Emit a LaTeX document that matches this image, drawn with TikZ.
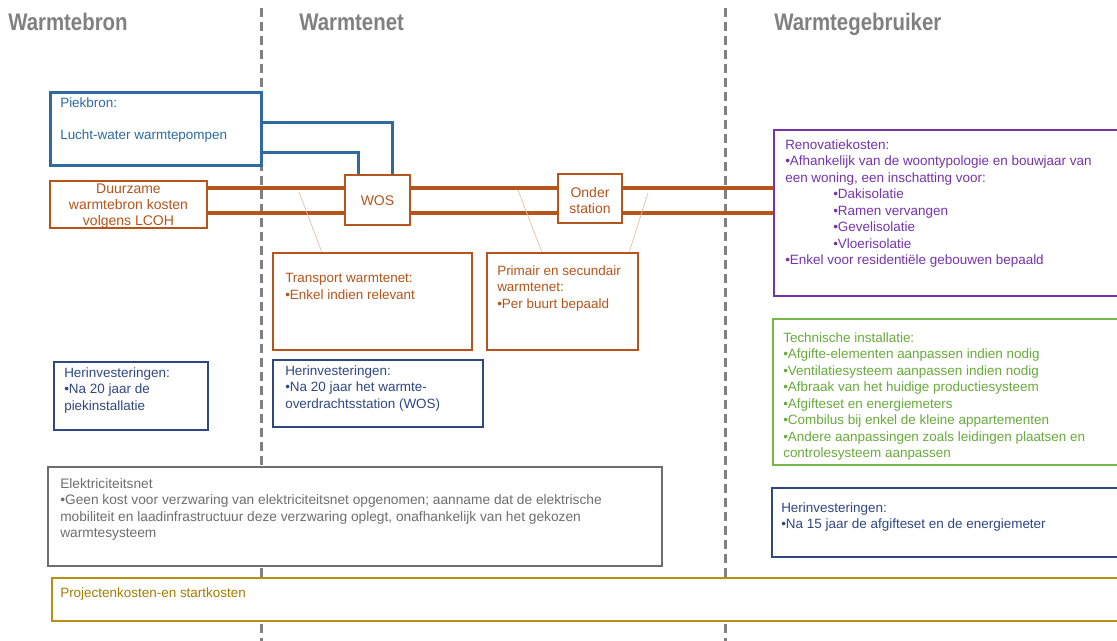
\documentclass[tikz,border=0pt]{standalone}
\usepackage{fontspec}
\setmainfont{Liberation Sans}
\newfontfamily\headfont[FakeStretch=0.85]{Liberation Sans}
\usetikzlibrary{fit}
\definecolor{headgray}{RGB}{128,128,128}
\definecolor{piekblue}{RGB}{46,106,160}
\definecolor{pipebrown}{RGB}{181,85,27}
\definecolor{tapcol}{RGB}{225,190,160}
\definecolor{navy}{RGB}{47,72,130}
\definecolor{renopurple}{RGB}{118,52,170}
\definecolor{techgreen}{RGB}{119,185,72}
\definecolor{techtext}{RGB}{105,170,60}
\definecolor{elekgray}{RGB}{110,110,110}
\definecolor{projgold}{RGB}{184,142,20}
\definecolor{projtext}{RGB}{165,125,0}
\tikzset{
  panel/.style={draw, line width=2pt, fill=white, inner sep=0pt},
  pipebox/.style={panel, draw=pipebrown},
  txt/.style={anchor=north west, inner sep=0pt, align=left, font=\fontsize{10.1}{12.4}\selectfont},
  pipetxt/.style={anchor=north, inner sep=0pt, align=center, pipebrown, font=\fontsize{10.5}{12}\selectfont},
  pipe/.style={line width=3pt, pipebrown},
  bluepipe/.style={line width=2.25pt, piekblue},
  tapline/.style={line width=0.5pt, tapcol},
  divider/.style={line width=2.25pt, headgray, dash pattern=on 6.75pt off 3.75pt},
  header/.style={anchor=base west, inner sep=0pt, headgray, font=\headfont\bfseries\fontsize{18}{21}\selectfont}
}
\begin{document}
\begin{tikzpicture}[x=0.75pt, y=-0.75pt]
\useasboundingbox (0,0) rectangle (1117,641);
\clip (0,0) rectangle (1117,641);

\draw[divider] (261,8) -- (261,641);
\draw[divider] (725,8) -- (725,641);

\node[header] (hbron) at (8,31) {Warmtebron};
\node[header] (hnet) at (299,31) {Warmtenet};
\node[header] (hgebruiker) at (774,31) {Warmtegebruiker};

% warmtebron
\node[panel, draw=piekblue, line width=2.25pt, fit={(50,93) (261,166)}] (piekbron) {};
\node[txt, piekblue] (piekbron-txt) at (60,97) {Piekbron:\\[12pt]Lucht-water warmtepompen};
\node[pipebox, fit={(50,181) (207,228)}] (bron) {};
\node[pipetxt] (bron-txt) at (128.5,184) {Duurzame\\warmtebron kosten\\volgens LCOH};
\node[panel, draw=navy, fit={(54,362) (208,430)}] (herbron) {};
\node[txt, navy] (herbron-txt) at (64,367) {Herinvesteringen:\\•Na 20 jaar de\\piekinstallatie};

% warmtenet
\node[pipebox, fit={(345,175) (410,225)}] (wos) {};
\node[pipetxt] (wos-txt) at (377.5,195) {WOS};
\node[pipebox, fit={(558,174) (622,223)}] (onderstation) {};
\node[pipetxt] (onderstation-txt) at (590,187) {Onder\\station};
\node[panel, draw=pipebrown, fit={(273,253) (472,350)}] (transport) {};
\node[txt, pipebrown] (transport-txt) at (285,273) {Transport warmtenet:\\•Enkel indien relevant};
\node[panel, draw=pipebrown, fit={(487,253) (638,350)}] (primair) {};
\node[txt, pipebrown] (primair-txt) at (497,265) {Primair en secundair\\warmtenet:\\•Per buurt bepaald};
\node[panel, draw=navy, fit={(273,360) (483,427)}] (hernet) {};
\node[txt, navy] (hernet-txt) at (285,365) {Herinvesteringen:\\•Na 20 jaar het warmte-\\overdrachtsstation (WOS)};

% warmtegebruiker
\node[panel, draw=renopurple, fit={(774,130) (1125,296)}] (renovatie) {};
\node[txt, renopurple] (renovatie-txt) at (785,139) {Renovatiekosten:\\
  •Afhankelijk van de woontypologie en bouwjaar van\\
  een woning, een inschatting voor:\\
  \hspace*{36pt}•Dakisolatie\\
  \hspace*{36pt}•Ramen vervangen\\
  \hspace*{36pt}•Gevelisolatie\\
  \hspace*{36pt}•Vloerisolatie\\
  •Enkel voor residentiële gebouwen bepaald};
\node[panel, draw=techgreen, fit={(773,319) (1125,465)}] (techniek) {};
\node[txt, techtext] (techniek-txt) at (783,332) {Technische installatie:\\
  •Afgifte-elementen aanpassen indien nodig\\
  •Ventilatiesysteem aanpassen indien nodig\\
  •Afbraak van het huidige productiesysteem\\
  •Afgifteset en energiemeters\\
  •Combilus bij enkel de kleine appartementen\\
  •Andere aanpassingen zoals leidingen plaatsen en\\
  controlesysteem aanpassen};
\node[panel, draw=navy, fit={(772,488) (1125,557)}] (hergebruiker) {};
\node[txt, navy] (hergebruiker-txt) at (781,502) {Herinvesteringen:\\•Na 15 jaar de afgifteset en de energiemeter};

% onderaan
\node[panel, draw=elekgray, fit={(48,467) (662,566)}] (elek) {};
\node[txt, elekgray, font=\fontsize{10.3}{12.4}\selectfont] (elek-txt) at (60,478) {Elektriciteitsnet\\
  •Geen kost voor verzwaring van elektriciteitsnet opgenomen; aanname dat de elektrische\\
  mobiliteit en laadinfrastructuur deze verzwaring oplegt, onafhankelijk van het gekozen\\
  warmtesysteem};
\node[panel, draw=projgold, line width=1.75pt, fit={(52,578) (1125,621)}] (project) {};
\node[txt, projtext] (project-txt) at (60,587) {Projectenkosten-en startkosten};

% leidingen
\coordinate (supply) at (0,188);
\coordinate (return) at (0,213);
\foreach \lvl in {supply,return} {
  \draw[pipe] (bron.east |- \lvl) -- (wos.west |- \lvl);
  \draw[pipe] (wos.east |- \lvl) -- (onderstation.west |- \lvl);
  \draw[pipe] (onderstation.east |- \lvl) -- (renovatie.west |- \lvl);
}
\draw[bluepipe] ([yshift=5.6pt]piekbron.east) -| ([xshift=11.6pt]wos.north);
\draw[bluepipe] ([yshift=-16.9pt]piekbron.east) -| ([xshift=-13.9pt]wos.north);

\coordinate (tap1) at (299,192);
\coordinate (tap2) at (518,190);
\coordinate (tap3) at (648,193);
\draw[tapline] (tap1) -- ([xshift=37.5pt]transport.north west);
\draw[tapline] (tap2) -- ([xshift=42pt]primair.north west);
\draw[tapline] (tap3) -- ([xshift=-7.5pt]primair.north east);
\end{tikzpicture}
\end{document}
